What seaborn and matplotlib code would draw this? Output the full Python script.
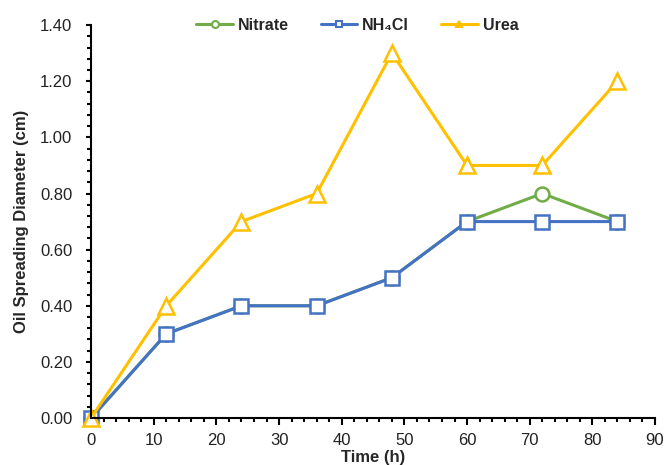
import matplotlib
matplotlib.use("Agg")
import matplotlib.pyplot as plt
import seaborn as sns
import pandas as pd
from matplotlib.lines import Line2D
from matplotlib.ticker import MultipleLocator

time_h = [0, 12, 24, 36, 48, 60, 72, 84]
nitrate = [0.00, 0.30, 0.40, 0.40, 0.50, 0.70, 0.80, 0.70]
nh4cl = [0.00, 0.30, 0.40, 0.40, 0.50, 0.70, 0.70, 0.70]
urea = [0.00, 0.40, 0.70, 0.80, 1.30, 0.90, 0.90, 1.20]
series_names = ["Nitrate", "NH₄Cl", "Urea"]
colors = ["#70AD47", "#4472C4", "#FFC000"]
markers = ["o", "s", "^"]

df = pd.concat([
    pd.DataFrame({"Time": time_h, "Value": v, "Series": n})
    for n, v in zip(series_names, [nitrate, nh4cl, urea])
])

sns.set_style("white")
plt.rcParams['font.family'] = ['Liberation Sans', 'DejaVu Sans']

fig = plt.figure(figsize=(6.65, 4.65), dpi=100)
ax = fig.add_axes([0.137, 0.101, 0.848, 0.845])

for n, c, m in zip(series_names, colors, markers):
    sub = df[df["Series"] == n]
    sns.lineplot(data=sub, x="Time", y="Value", ax=ax, color=c, marker=m,
                 markersize=10 if m != "^" else 11, markerfacecolor="white",
                 markeredgecolor=c, markeredgewidth=1.8, linewidth=2.2,
                 clip_on=False, legend=False)

ax.set_xlim(0, 90)
ax.set_ylim(0, 1.40)
ax.xaxis.set_major_locator(MultipleLocator(10))
ax.xaxis.set_minor_locator(MultipleLocator(2))
ax.yaxis.set_major_locator(MultipleLocator(0.2))
ax.yaxis.set_minor_locator(MultipleLocator(0.04))
ax.yaxis.set_major_formatter(matplotlib.ticker.FormatStrFormatter("%.2f"))

for s in ["top", "right"]:
    ax.spines[s].set_visible(False)
for s in ["left", "bottom"]:
    ax.spines[s].set_color("black")
    ax.spines[s].set_linewidth(1.5)

ax.tick_params(axis="x", which="major", direction="out", length=5, width=1.5,
               colors="black", labelsize=12, labelcolor="#222222", bottom=True, pad=6)
ax.tick_params(axis="x", which="minor", direction="out", length=3, width=1.5,
               colors="black", bottom=True)
ax.tick_params(axis="y", which="major", direction="out", length=3.5, width=1.5,
               colors="black", labelsize=12, labelcolor="#222222", left=True, pad=10)
ax.tick_params(axis="y", which="minor", direction="out", length=3, width=1.5,
               colors="black", left=True)

ax.set_xlabel("Time (h)", fontsize=12, fontweight="bold", labelpad=1)
ax.set_ylabel("Oil Spreading Diameter (cm)", fontsize=12, fontweight="bold", labelpad=8)

handles = [Line2D([0], [0], color=c, marker=m, markersize=5, markerfacecolor="white" if m != "^" else c,
                  markeredgecolor=c, markeredgewidth=1.5, linewidth=2.2)
           for c, m in zip(colors, markers)]
leg = ax.legend(handles, series_names, loc="upper center", bbox_to_anchor=(0.472, 1.055),
                ncol=3, frameon=False, prop={"weight": "bold", "size": 11.5},
                handlelength=2.3, columnspacing=2.0, handletextpad=0.3)

fig.savefig("out.png", dpi=100)
